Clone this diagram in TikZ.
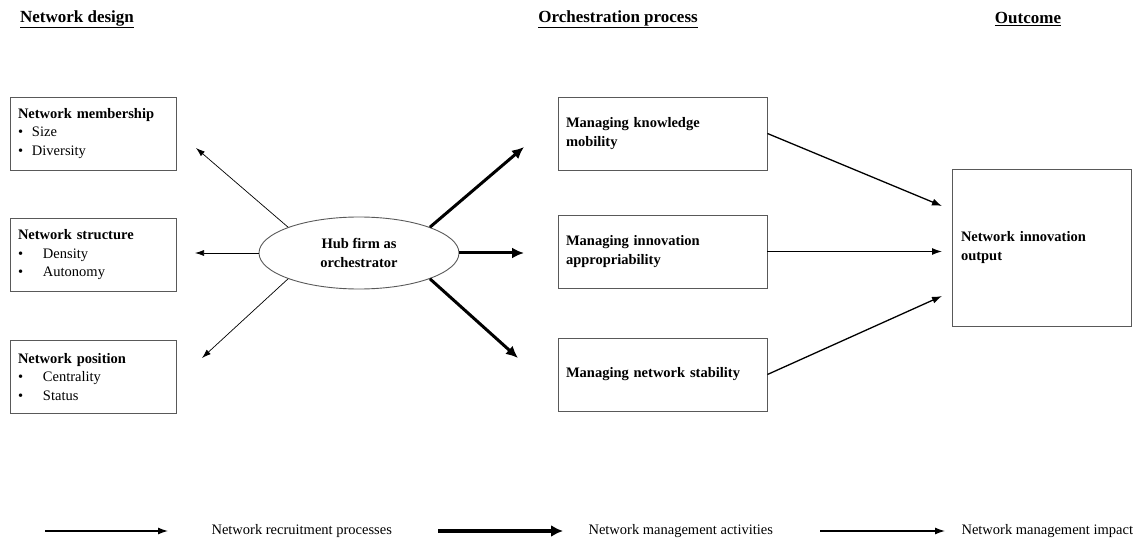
\documentclass[tikz,border=0pt]{standalone}
\usepackage{fontspec}
\setmainfont{Liberation Serif}
\usetikzlibrary{arrows.meta,positioning,shapes.geometric}

\newcommand{\bul}[2]{\makebox[#1][l]{\textbullet}#2}

\tikzset{
    box/.style={draw=black!65, line width=0.9pt, align=left, inner xsep=8pt,
        font=\fontsize{14.5}{18.5}\selectfont},
    leftbox/.style={box, minimum width=166pt, minimum height=73pt, text width=150pt},
    midbox/.style={box, minimum width=209pt, minimum height=73pt, text width=193pt},
    recruit/.style={line width=0.7pt, -{Latex[length=9pt,width=6pt]}},
    manage/.style={line width=3pt, -{Latex[length=12pt,width=11pt]}},
    impact/.style={line width=1.3pt, -{Latex[length=10pt,width=7pt]}},
    head/.style={font=\fontsize{17}{20}\selectfont\bfseries},
    legend/.style={font=\fontsize{14.5}{17}\selectfont}
}

\begin{document}
\begin{tikzpicture}[x=1pt,y=-1pt]
    \useasboundingbox (0,0) rectangle (1141,540);

    % Kopfzeilen
    \node[head] (hdesign) at (77,19) {\underline{Network design}};
    \node[head] (horch) at (618,19) {\underline{Orchestration process}};
    \node[head] (hout) at (1028,19) {\underline{Outcome}};

    % Netzwerkdesign
    \node[leftbox] (member) at (93,133.5) {\textbf{Network membership}\\
        \bul{14pt}{Size}\\ \bul{14pt}{Diversity}};
    \node[leftbox] (struct) at (93,255) {\textbf{Network structure}\\
        \bul{25pt}{Density}\\ \bul{25pt}{Autonomy}};
    \node[leftbox] (posit) at (93,377) {\textbf{Network position}\\
        \bul{25pt}{Centrality}\\ \bul{25pt}{Status}};

    % Hub
    \node[ellipse, draw=black!65, line width=0.9pt, minimum width=200pt,
        minimum height=72pt, align=center,
        font=\fontsize{14.5}{18.5}\selectfont\bfseries] (hub) at (359,253)
        {Hub firm as\\orchestrator};

    % Orchestrierung
    \node[midbox, font=\fontsize{14.5}{18.5}\selectfont\bfseries] (know) at (662.5,133.5)
        {Managing knowledge\\mobility};
    \node[midbox, font=\fontsize{14.5}{18.5}\selectfont\bfseries] (appr) at (662.5,251.5)
        {Managing innovation\\appropriability};
    \node[midbox, font=\fontsize{14.5}{18.5}\selectfont\bfseries] (stab) at (662.5,374.5)
        {Managing network stability};

    % Ergebnis
    \node[box, minimum width=179pt, minimum height=157pt, text width=161pt,
        font=\fontsize{14.5}{18.5}\selectfont\bfseries] (output) at (1041.5,247.5)
        {Network innovation\\output};

    % freie Enden
    \coordinate (tl) at (196,148);
    \coordinate (ml) at (195,253);
    \coordinate (bl) at (202,358);
    \coordinate (tr) at (524,147);
    \coordinate (mr) at (524,253);
    \coordinate (br) at (518,358);
    \coordinate (in1) at (942,206);
    \coordinate (in2) at (942,251.5);
    \coordinate (in3) at (942,296);

    % Pfeile
    \draw[recruit] (hub.160) -- (tl);
    \draw[recruit] (hub.west) -- (ml);
    \draw[recruit] (hub.200) -- (bl);
    \draw[manage] (hub.20) -- (tr);
    \draw[manage] (hub.east) -- (mr);
    \draw[manage] (hub.340) -- (br);
    \draw[impact] (know.east) -- (in1);
    \draw[impact] (appr.east) -- (in2);
    \draw[impact] (stab.east) -- (in3);

    % Legende
    \coordinate (la) at (45,531);
    \coordinate (lb) at (168,531);
    \coordinate (lc) at (438,531);
    \coordinate (ld) at (563,531);
    \coordinate (le) at (820,531);
    \coordinate (lf) at (945,531);
    \draw[line width=1.3pt, -{Latex[length=10pt,width=7pt]}] (la) -- (lb);
    \draw[line width=4pt, -{Latex[length=12pt,width=12pt]}] (lc) -- (ld);
    \draw[impact] (le) -- (lf);
    \node[legend, anchor=west] (lrec) at (208,531) {Network recruitment processes};
    \node[legend, anchor=west] (lman) at (585,531) {Network management activities};
    \node[legend, anchor=west] (limp) at (958,531) {Network management impact};
\end{tikzpicture}
\end{document}
